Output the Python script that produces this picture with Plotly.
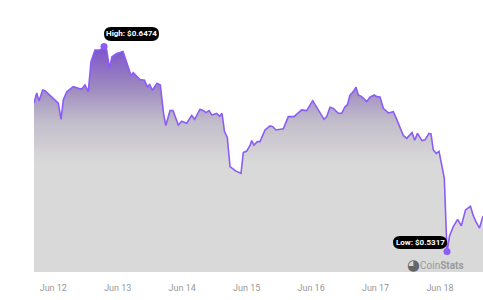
import pandas as pd
import plotly.graph_objects as go

# Hours relative to 2024-06-12 00:00
hours = [-7.19, -6.18, -5.33, -3.95, -3.09, -1.23, 0.63, 1.86, 2.87, 3.72, 4.99, 7.45, 9.31, 10.58, 11.80,
         13.03, 14.04, 15.53, 17.39, 18.88, 19.89, 20.93, 21.86, 23.61, 25.96, 28.93, 29.79, 32.28, 33.96,
         35.00, 35.90, 36.87, 38.62, 39.85, 41.04, 41.89, 43.46, 44.57, 46.55, 47.81, 49.67, 51.54, 52.65,
         54.63, 55.93, 56.86, 57.98, 58.98, 60.85, 61.89, 62.82, 63.75, 64.79, 65.80, 67.85, 69.90, 70.75,
         72.02, 73.25, 73.88, 74.74, 75.97, 76.97, 78.83, 80.70, 81.70, 82.93, 85.65, 87.51, 89.63, 92.50,
         94.36, 96.60, 98.68, 100.80, 101.81, 103.04, 104.27, 106.13, 107.39, 108.62, 109.48, 110.48,
         111.71, 112.72, 113.58, 114.84, 116.70, 117.93, 119.53, 120.43, 121.66, 122.89, 124.75, 126.61,
         127.88, 129.10, 130.33, 131.60, 133.57, 134.58, 135.62, 137.30, 138.41, 139.90, 140.65, 141.50,
         142.62, 143.63, 144.75, 145.60, 146.61, 147.54, 148.95, 150.59, 151.93, 153.49, 155.36, 156.29,
         157.41, 158.71, 160.01]

prices = [0.6154, 0.6212, 0.6167, 0.6229, 0.6225, 0.6200, 0.6176, 0.6154, 0.6063, 0.6172, 0.6219, 0.6247,
          0.6238, 0.6234, 0.6257, 0.6219, 0.6388, 0.6454, 0.6454, 0.6474, 0.6454, 0.6351, 0.6416, 0.6435,
          0.6445, 0.6310, 0.6326, 0.6288, 0.6283, 0.6247, 0.6259, 0.6227, 0.6266, 0.6257, 0.6097, 0.6028,
          0.6113, 0.6113, 0.6031, 0.6052, 0.6041, 0.6085, 0.6063, 0.6120, 0.6112, 0.6101, 0.6112, 0.6088,
          0.6096, 0.6080, 0.6097, 0.5994, 0.5961, 0.5797, 0.5772, 0.5759, 0.5876, 0.5884, 0.5916, 0.5943,
          0.5918, 0.5937, 0.5937, 0.6003, 0.6026, 0.6022, 0.6003, 0.6010, 0.6078, 0.6078, 0.6116, 0.6112,
          0.6168, 0.6116, 0.6063, 0.6078, 0.6131, 0.6125, 0.6097, 0.6097, 0.6134, 0.6144, 0.6200, 0.6219,
          0.6244, 0.6200, 0.6191, 0.6163, 0.6188, 0.6200, 0.6191, 0.6189, 0.6125, 0.6099, 0.6106, 0.6063,
          0.6022, 0.5972, 0.5956, 0.5988, 0.5945, 0.5984, 0.5943, 0.5947, 0.5984, 0.5981, 0.5890, 0.5871,
          0.5882, 0.5806, 0.5731, 0.5317, 0.5405, 0.5458, 0.5499, 0.5462, 0.5552, 0.5572, 0.5524, 0.5484,
          0.5450, 0.5518]

tick_labels = ["Jun 12", "Jun 13", "Jun 14", "Jun 15", "Jun 16", "Jun 17", "Jun 18"]

assert len(hours) == len(prices)

base = pd.Timestamp("2024-06-12 00:00")
times = [base + pd.Timedelta(hours=h) for h in hours]
tick_vals = [base + pd.Timedelta(days=i) for i in range(len(tick_labels))]

i_hi = max(range(len(prices)), key=lambda i: prices[i])
i_lo = min(range(len(prices)), key=lambda i: prices[i])
t_hi, p_hi = times[i_hi], prices[i_hi]
t_lo, p_lo = times[i_lo], prices[i_lo]

LINE = "#8b5cf6"

fig = go.Figure()
fig.add_trace(go.Scatter(
    x=times, y=prices, mode="lines",
    line=dict(color=LINE, width=1.6),
    fill="tozeroy",
    fillgradient=dict(type="vertical", start=0.582, stop=0.6474,
                      colorscale=[[0, "#d9d9d9"], [0.35, "#c2bdcb"], [0.65, "#9d89bf"], [1, "#7d52cc"]]),
    hoverinfo="skip", showlegend=False,
))
fig.add_trace(go.Scatter(
    x=[t_hi, t_lo], y=[p_hi, p_lo], mode="markers",
    marker=dict(color=LINE, size=7), showlegend=False, hoverinfo="skip",
))

hi_path = "M 7,5.5 L 48,5.5 Q 55,5.5 55,12.5 Q 55,19.5 48,19.5 L 7,19.5 Q 0,19.5 0,12.5 Q 0,5.5 7,5.5 Z"
lo_path = "M -47,2.5 L -7,2.5 Q 0,2.5 0,9 Q 0,15.5 -7,15.5 L -47,15.5 Q -54,15.5 -54,9 Q -54,2.5 -47,2.5 Z"
shapes = [
    dict(type="path", xref="x", yref="y", xsizemode="pixel", ysizemode="pixel",
         xanchor=t_hi, yanchor=p_hi, path=hi_path, fillcolor="black", line=dict(width=0), layer="above"),
    dict(type="path", xref="x", yref="y", xsizemode="pixel", ysizemode="pixel",
         xanchor=t_lo, yanchor=p_lo, path=lo_path, fillcolor="black", line=dict(width=0), layer="above"),
]

annotations = [
    dict(x=t_hi, y=p_hi, xref="x", yref="y", text=f"<b>High: ${p_hi:.4f}</b>", showarrow=False,
         xanchor="center", yanchor="middle", xshift=27.5, yshift=12.5,
         font=dict(family="Roboto", size=8, color="white")),
    dict(x=t_lo, y=p_lo, xref="x", yref="y", text=f"<b>Low: ${p_lo:.4f}</b>", showarrow=False,
         xanchor="center", yanchor="middle", xshift=-27, yshift=9,
         font=dict(family="Roboto", size=8, color="white")),
    dict(x=1, y=0, xref="paper", yref="paper", text="Coin<b>Stats</b>", showarrow=False,
         xanchor="right", yanchor="middle", xshift=-17, yshift=7,
         font=dict(family="Roboto", size=10, color="#999999")),
    dict(x=1, y=0, xref="paper", yref="paper", text="◕", showarrow=False,
         xanchor="center", yanchor="middle", xshift=-70, yshift=7.5,
         font=dict(family="DejaVu Sans", size=15, color="#666666")),
]

fig.update_layout(
    width=483, height=300,
    margin=dict(l=34, r=0, t=0, b=28),
    paper_bgcolor="white", plot_bgcolor="white",
    shapes=shapes, annotations=annotations,
    xaxis=dict(range=[times[0], times[-1]], showgrid=False, zeroline=False, showline=False,
               tickvals=tick_vals, ticktext=tick_labels, ticks="outside", ticklen=7,
               tickcolor="rgba(0,0,0,0)", tickfont=dict(family="Roboto", size=9, color="#999999")),
    yaxis=dict(range=[0.5202, 0.6736], visible=False, showgrid=False, zeroline=False),
)

fig.write_html("out.html")
